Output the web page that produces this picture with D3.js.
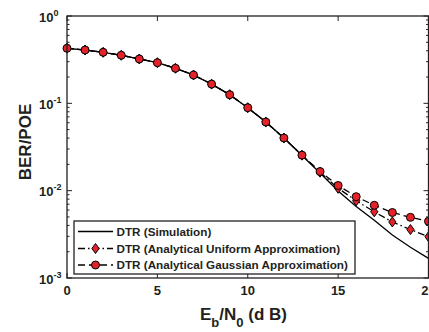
<!DOCTYPE html>
<html>
<head>
<meta charset="utf-8">
<script src="https://cdn.jsdelivr.net/npm/d3@7"></script>
<style>
  body { margin: 0; background: #fff; }
  text { font-family: "Liberation Sans", Arial, sans-serif; font-weight: bold; fill: #231f20; }
</style>
</head>
<body>
<div id="chart"></div>
<script>
// Eb/N0 in dB
let snr = [0, 1, 2, 3, 4, 5, 6, 7, 8, 9, 10, 11, 12, 13, 14, 15, 16, 17, 18, 19, 20];
let simulation = [0.427, 0.408, 0.384, 0.355, 0.322, 0.292, 0.252, 0.211, 0.166, 0.1256, 0.0891,
  0.0611, 0.0401, 0.0253, 0.0159, 0.0099, 0.00659, 0.00458, 0.0031, 0.00225, 0.00168];
let uniformApprox = [0.427, 0.408, 0.384, 0.355, 0.322, 0.292, 0.252, 0.211, 0.166, 0.1256, 0.0891,
  0.0611, 0.0401, 0.0255, 0.0163, 0.01064, 0.00767, 0.00573, 0.00438, 0.00359, 0.00297];
let gaussianApprox = [0.427, 0.408, 0.384, 0.355, 0.322, 0.292, 0.252, 0.211, 0.166, 0.1256, 0.0891,
  0.0611, 0.0401, 0.0255, 0.01656, 0.01146, 0.00853, 0.0068, 0.00562, 0.00495, 0.00446];
let xTicks = [0, 5, 10, 15, 20];
let yTicks = [1e-3, 1e-2, 1e-1, 1];
let yTickExp = ["-3", "-2", "-1", "0"];
let legendLabels = ["DTR (Simulation)", "DTR (Analytical Uniform Approximation)", "DTR (Analytical Gaussian Approximation)"];

let width = 429;
let height = 332;
let plotL = 67, plotR = 428.5, plotT = 16, plotB = 278;
let red = "#e52229";

let xScale = d3.scaleLinear().domain([0, 20]).range([plotL, plotR]);
let yScale = d3.scaleLog().domain([1e-3, 1]).range([plotB, plotT]);

let svg = d3.select("#chart").append("svg")
  .attr("width", width).attr("height", height);

// ticks inside the box
let minor = [];
for (let e = -3; e < 0; e++) {
  for (let m = 2; m < 10; m++) minor.push(m * Math.pow(10, e));
}
let g = svg.append("g").attr("stroke", "#231f20").attr("stroke-width", 1);
[plotL, plotR].forEach(function (x0) {
  let dir = x0 == plotL ? 1 : -1;
  g.selectAll(null).data(minor).enter().append("line")
    .attr("x1", x0).attr("x2", x0 + dir * 2.5)
    .attr("y1", d => yScale(d)).attr("y2", d => yScale(d));
  g.selectAll(null).data(yTicks).enter().append("line")
    .attr("x1", x0).attr("x2", x0 + dir * 5)
    .attr("y1", d => yScale(d)).attr("y2", d => yScale(d));
});
[plotT, plotB].forEach(function (y0) {
  let dir = y0 == plotB ? -1 : 1;
  g.selectAll(null).data(xTicks).enter().append("line")
    .attr("x1", d => xScale(d)).attr("x2", d => xScale(d))
    .attr("y1", y0).attr("y2", y0 + dir * 5);
});

// lines
let line = d3.line()
  .x(function (d, i) { return xScale(snr[i]); })
  .y(function (d) { return yScale(d); });

svg.append("path").attr("d", line(simulation))
  .attr("fill", "none").attr("stroke", "#000").attr("stroke-width", 1.3);
svg.append("path").attr("d", line(uniformApprox))
  .attr("fill", "none").attr("stroke", "#000").attr("stroke-width", 1.3)
  .attr("stroke-dasharray", "7,3,1.5,3");
svg.append("path").attr("d", line(gaussianApprox))
  .attr("fill", "none").attr("stroke", "#000").attr("stroke-width", 1.3)
  .attr("stroke-dasharray", "7,4");

let diamond = "M0,-5L3.6,0L0,5L-3.6,0Z";
svg.selectAll(".dia").data(uniformApprox).enter().append("path")
  .attr("class", "dia").attr("d", diamond)
  .attr("transform", (d, i) => "translate(" + xScale(snr[i]) + "," + yScale(d) + ")")
  .attr("fill", red).attr("stroke", "#000").attr("stroke-width", 1);
svg.selectAll(".dot").data(gaussianApprox).enter().append("circle")
  .attr("class", "dot")
  .attr("cx", (d, i) => xScale(snr[i])).attr("cy", d => yScale(d)).attr("r", 4)
  .attr("fill", red).attr("stroke", "#000").attr("stroke-width", 1);

// frame
svg.append("rect").attr("x", plotL).attr("y", plotT)
  .attr("width", plotR - plotL).attr("height", plotB - plotT)
  .attr("fill", "none").attr("stroke", "#231f20").attr("stroke-width", 1.3);

// tick labels
svg.selectAll(".xt").data(xTicks).enter().append("text")
  .attr("x", d => xScale(d)).attr("y", 295)
  .attr("text-anchor", "middle").attr("font-size", 13)
  .text(d => d);
let yt = svg.selectAll(".yt").data(yTicks).enter().append("text")
  .attr("x", 39).attr("y", d => yScale(d) + 5.5).attr("font-size", 13);
yt.append("tspan").text("10");
yt.append("tspan").attr("dy", -6).attr("font-size", 9).text((d, i) => yTickExp[i]);

// axis titles
let xl = svg.append("text").attr("x", 200).attr("y", 320).attr("font-size", 17);
xl.append("tspan").text("E");
xl.append("tspan").attr("dy", 7).attr("font-size", 13).text("b");
xl.append("tspan").attr("dy", -7).text("/N");
xl.append("tspan").attr("dy", 7).attr("font-size", 13).text("0");
xl.append("tspan").attr("dy", -7).text(" (d B)");

svg.append("text")
  .attr("transform", "translate(31," + ((plotT + plotB) / 2 - 5) + ") rotate(-90)")
  .attr("text-anchor", "middle").attr("font-size", 17)
  .text("BER/POE");

// legend
let lg = svg.append("g");
lg.append("rect").attr("x", 74).attr("y", 221).attr("width", 281).attr("height", 53)
  .attr("fill", "#fff").attr("stroke", "#231f20").attr("stroke-width", 1.3);
let rowY = [231.5, 248.5, 265];
let dashes = [null, "7,3,1.5,3", "7,4"];
legendLabels.forEach(function (lab, i) {
  lg.append("line").attr("x1", 78).attr("x2", 113).attr("y1", rowY[i]).attr("y2", rowY[i])
    .attr("stroke", "#000").attr("stroke-width", 1.3).attr("stroke-dasharray", dashes[i]);
  if (i == 1) {
    lg.append("path").attr("d", diamond).attr("transform", "translate(95.5," + rowY[i] + ")")
      .attr("fill", red).attr("stroke", "#000");
  }
  if (i == 2) {
    lg.append("circle").attr("cx", 95.5).attr("cy", rowY[i]).attr("r", 4)
      .attr("fill", red).attr("stroke", "#000");
  }
  lg.append("text").attr("x", 116.5).attr("y", rowY[i]).attr("dy", "0.36em")
    .attr("font-size", 11.7).text(lab);
});
</script>
</body>
</html>
